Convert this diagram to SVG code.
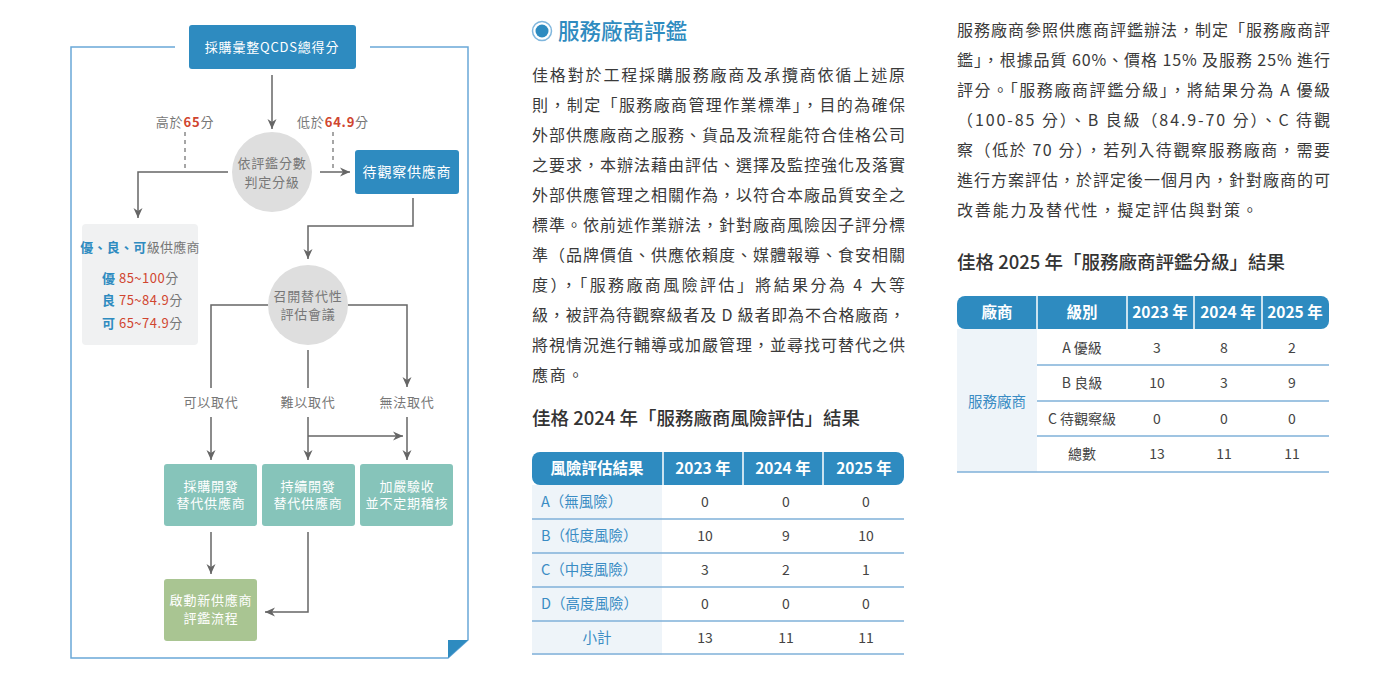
<svg xmlns="http://www.w3.org/2000/svg" width="1400" height="690" viewBox="0 0 1400 690">
<defs>
<marker id="ah" markerWidth="10" markerHeight="10" refX="10" refY="5" orient="auto" markerUnits="userSpaceOnUse">
<path d="M0,0.5 L10,5 L0,9.5 L3,5 z" fill="#666"/>
</marker>
<style>
text{font-family:"Noto Sans CJK TC","Noto Sans CJK SC",sans-serif}
.ln{fill:none;stroke:#666;stroke-width:1.5}
.dash{fill:none;stroke:#777;stroke-width:1.3;stroke-dasharray:4 4}
.fl{font-size:13px;fill:#777;text-anchor:middle;letter-spacing:0.8px}
.wt{font-size:13px;fill:#fff;text-anchor:middle;letter-spacing:0.8px}
.red{fill:#d0452f;font-weight:700}
.blu{fill:#2e8bc0;font-weight:700}
.body{font-size:16px;fill:#3a3a3a}
.hd{font-size:18.5px;fill:#333;font-weight:500}
.th{font-size:15.5px;fill:#fff;font-weight:700;text-anchor:middle}
.td{font-size:14px;fill:#444;text-anchor:middle}
.tl{font-size:14.5px;fill:#3a8cc4}
.rl{stroke:#7fb0d8;stroke-width:1.5}
</style>
</defs>
<rect width="1400" height="690" fill="#fff"/>

<!-- frame -->
<g id="frame" fill="none" stroke="#6aa8d8" stroke-width="1.5">
<path d="M175,47 H71 V658 H448 L468,640 V47 H370"/>
<path d="M448,640 H468 L448,658 Z" fill="#2e8bc0" stroke="none"/>
</g>

<!-- connectors -->
<g id="connectors">
<line class="ln" x1="272" y1="75" x2="272" y2="129" marker-end="url(#ah)"/>
<line class="dash" x1="185" y1="132" x2="185" y2="168"/>
<line class="dash" x1="333" y1="132" x2="333" y2="168"/>
<path class="ln" d="M228,172 H138 V218" marker-end="url(#ah)"/>
<line class="ln" x1="320" y1="172" x2="350" y2="172" marker-end="url(#ah)"/>
<path class="ln" d="M413,198 V226 H308 V259" marker-end="url(#ah)"/>
<path class="ln" d="M268,305 H211 V388"/>
<line class="ln" x1="308" y1="350" x2="308" y2="388"/>
<path class="ln" d="M348,305 H407 V387" marker-end="url(#ah)"/>
<line class="ln" x1="211" y1="417" x2="211" y2="460" marker-end="url(#ah)"/>
<line class="ln" x1="308" y1="417" x2="308" y2="460" marker-end="url(#ah)"/>
<line class="ln" x1="407" y1="417" x2="407" y2="460" marker-end="url(#ah)"/>
<line class="ln" x1="308" y1="436" x2="403" y2="436" marker-end="url(#ah)"/>
<line class="ln" x1="211" y1="532" x2="211" y2="574" marker-end="url(#ah)"/>
<path class="ln" d="M308,532 V612 H265" marker-end="url(#ah)"/>
<text class="fl" x="185" y="127">高於<tspan class="red">65</tspan>分</text>
<text class="fl" x="333" y="127">低於<tspan class="red">64.9</tspan>分</text>
<text class="fl" x="211" y="407">可以取代</text>
<text class="fl" x="308" y="407">難以取代</text>
<text class="fl" x="407" y="407">無法取代</text>
</g>

<g id="n-total">
<rect x="189" y="25" width="167" height="44" rx="3" fill="#2e8bc0"/>
<text class="wt" x="272" y="52">採購彙整QCDS總得分</text>
</g>
<g id="n-judge">
<circle cx="272" cy="172" r="40" fill="#dedede"/>
<text class="fl" x="272" y="168">依評鑑分數</text>
<text class="fl" x="272" y="187">判定分級</text>
</g>
<g id="n-watch">
<rect x="355" y="150" width="104" height="44" rx="3" fill="#2e8bc0"/>
<text class="wt" x="407" y="177" style="font-size:14px">待觀察供應商</text>
</g>
<g id="n-grades">
<rect x="82" y="224" width="116" height="121" rx="4" fill="#f0f1f2"/>
<text class="fl" x="140" y="252" style="letter-spacing:0.3px"><tspan class="blu">優、良、可</tspan>級供應商</text>
<text class="fl" x="102" y="283" style="text-anchor:start;letter-spacing:0.5px"><tspan class="blu">優</tspan><tspan fill="#d0452f"> 85~100</tspan>分</text>
<text class="fl" x="102" y="305" style="text-anchor:start;letter-spacing:0.5px"><tspan class="blu">良</tspan><tspan fill="#d0452f"> 75~84.9</tspan>分</text>
<text class="fl" x="102" y="328" style="text-anchor:start;letter-spacing:0.5px"><tspan class="blu">可</tspan><tspan fill="#d0452f"> 65~74.9</tspan>分</text>
</g>
<g id="n-meeting">
<circle cx="308" cy="305" r="40" fill="#dedede"/>
<text class="fl" x="308" y="301">召開替代性</text>
<text class="fl" x="308" y="319">評估會議</text>
</g>
<g id="n-develop">
<rect x="164" y="464" width="93" height="62" rx="3" fill="#86c4ba"/>
<text class="wt" x="211" y="491">採購開發</text>
<text class="wt" x="211" y="508">替代供應商</text>
</g>
<g id="n-continue">
<rect x="262" y="464" width="93" height="62" rx="3" fill="#86c4ba"/>
<text class="wt" x="308" y="491">持續開發</text>
<text class="wt" x="308" y="508">替代供應商</text>
</g>
<g id="n-strict">
<rect x="360" y="464" width="93" height="62" rx="3" fill="#86c4ba"/>
<text class="wt" x="407" y="491">加嚴驗收</text>
<text class="wt" x="407" y="508">並不定期稽核</text>
</g>
<g id="n-new">
<rect x="164" y="579" width="93" height="62" rx="3" fill="#a9c592"/>
<text class="wt" x="211" y="605">啟動新供應商</text>
<text class="wt" x="211" y="623">評鑑流程</text>
</g>

<!-- middle column -->
<g id="title">
<circle cx="542" cy="31" r="9.5" fill="none" stroke="#7fb6dd" stroke-width="1.5"/>
<circle cx="542" cy="31" r="6.5" fill="#2e8bc0"/>
<text x="558" y="39" font-size="21.5" fill="#2e8bc0" font-weight="500">服務廠商評鑑</text>
</g>
<g id="para1">
<text class="body" x="532" y="81" textLength="373" lengthAdjust="spacing">佳格對於工程採購服務廠商及承攬商依循上述原</text>
<text class="body" x="532" y="111" textLength="373" lengthAdjust="spacing">則，制定「服務廠商管理作業標準」，目的為確保</text>
<text class="body" x="532" y="141" textLength="373" lengthAdjust="spacing">外部供應廠商之服務、貨品及流程能符合佳格公司</text>
<text class="body" x="532" y="171" textLength="373" lengthAdjust="spacing">之要求，本辦法藉由評估、選擇及監控強化及落實</text>
<text class="body" x="532" y="201" textLength="373" lengthAdjust="spacing">外部供應管理之相關作為，以符合本廠品質安全之</text>
<text class="body" x="532" y="231" textLength="373" lengthAdjust="spacing">標準。依前述作業辦法，針對廠商風險因子評分標</text>
<text class="body" x="532" y="261" textLength="373" lengthAdjust="spacing">準（品牌價值、供應依賴度、媒體報導、食安相關</text>
<text class="body" x="532" y="291" textLength="373" lengthAdjust="spacing">度），「服務廠商風險評估」將結果分為 4 大等</text>
<text class="body" x="532" y="321" textLength="373" lengthAdjust="spacing">級，被評為待觀察級者及 D 級者即為不合格廠商，</text>
<text class="body" x="532" y="351" textLength="373" lengthAdjust="spacing">將視情況進行輔導或加嚴管理，並尋找可替代之供</text>
<text class="body" x="532" y="381" style="letter-spacing:1.8px">應商。</text>
</g>
<text class="hd" x="532" y="425">佳格 2024 年「服務廠商風險評估」結果</text>

<g id="table1">
<rect x="532" y="485" width="130" height="170" fill="#eef4f9"/>
<rect x="532" y="452" width="372" height="33" rx="8" fill="#2e8bc0"/>
<g stroke="#fff" stroke-width="1.5">
<line x1="663" y1="452" x2="663" y2="485"/>
<line x1="743" y1="452" x2="743" y2="485"/>
<line x1="823" y1="452" x2="823" y2="485"/>
</g>
<text class="th" x="597" y="474">風險評估結果</text>
<text class="th" x="703" y="474">2023 年</text>
<text class="th" x="783" y="474">2024 年</text>
<text class="th" x="864" y="474">2025 年</text>
<g>
<line class="rl" x1="532" y1="519" x2="904" y2="519"/>
<line class="rl" x1="532" y1="553" x2="904" y2="553"/>
<line class="rl" x1="532" y1="587" x2="904" y2="587"/>
<line class="rl" x1="532" y1="621" x2="904" y2="621"/>
<line class="rl" x1="532" y1="654" x2="904" y2="654"/>
</g>
<text class="tl" x="541" y="507">A（無風險）</text>
<text class="tl" x="541" y="541">B（低度風險）</text>
<text class="tl" x="541" y="575">C（中度風險）</text>
<text class="tl" x="541" y="609">D（高度風險）</text>
<text class="tl" x="597" y="643" text-anchor="middle">小計</text>
<text class="td" x="705" y="507">0</text><text class="td" x="786" y="507">0</text><text class="td" x="866" y="507">0</text>
<text class="td" x="705" y="541">10</text><text class="td" x="786" y="541">9</text><text class="td" x="866" y="541">10</text>
<text class="td" x="705" y="575">3</text><text class="td" x="786" y="575">2</text><text class="td" x="866" y="575">1</text>
<text class="td" x="705" y="609">0</text><text class="td" x="786" y="609">0</text><text class="td" x="866" y="609">0</text>
<text class="td" x="705" y="643">13</text><text class="td" x="786" y="643">11</text><text class="td" x="866" y="643">11</text>
</g>

<!-- right column -->
<g id="para2">
<text class="body" x="957" y="36" textLength="373" lengthAdjust="spacing">服務廠商參照供應商評鑑辦法，制定「服務廠商評</text>
<text class="body" x="957" y="66" textLength="373" lengthAdjust="spacing">鑑」，根據品質 60%、價格 15% 及服務 25% 進行</text>
<text class="body" x="957" y="96" textLength="373" lengthAdjust="spacing">評分。「服務廠商評鑑分級」，將結果分為 A 優級</text>
<text class="body" x="957" y="126" textLength="373" lengthAdjust="spacing">（100-85 分）、B 良級（84.9-70 分）、C 待觀</text>
<text class="body" x="957" y="156" textLength="373" lengthAdjust="spacing">察（低於 70 分），若列入待觀察服務廠商，需要</text>
<text class="body" x="957" y="186" textLength="373" lengthAdjust="spacing">進行方案評估，於評定後一個月內，針對廠商的可</text>
<text class="body" x="957" y="216" style="letter-spacing:1.8px">改善能力及替代性，擬定評估與對策。</text>
</g>
<text class="hd" x="957" y="269">佳格 2025 年「服務廠商評鑑分級」結果</text>

<g id="table2">
<rect x="957" y="329" width="80" height="143" fill="#eef4f9"/>
<rect x="957" y="296" width="372" height="33" rx="8" fill="#2e8bc0"/>
<g stroke="#fff" stroke-width="1.5">
<line x1="1037" y1="296" x2="1037" y2="329"/>
<line x1="1127" y1="296" x2="1127" y2="329"/>
<line x1="1194" y1="296" x2="1194" y2="329"/>
<line x1="1262" y1="296" x2="1262" y2="329"/>
</g>
<text class="th" x="997" y="318">廠商</text>
<text class="th" x="1082" y="318">級別</text>
<text class="th" x="1160" y="318">2023 年</text>
<text class="th" x="1228" y="318">2024 年</text>
<text class="th" x="1295" y="318">2025 年</text>
<line class="rl" x1="1037" y1="365" x2="1329" y2="365"/>
<line class="rl" x1="1037" y1="401" x2="1329" y2="401"/>
<line class="rl" x1="1037" y1="436" x2="1329" y2="436"/>
<line class="rl" x1="957" y1="472" x2="1329" y2="472"/>
<text class="tl" x="997" y="407" text-anchor="middle" font-size="15">服務廠商</text>
<text class="td" x="1082" y="353" fill="#666">A 優級</text>
<text class="td" x="1082" y="388" fill="#666">B 良級</text>
<text class="td" x="1082" y="424" fill="#666">C 待觀察級</text>
<text class="td" x="1082" y="459" fill="#666">總數</text>
<text class="td" x="1157" y="353">3</text><text class="td" x="1224" y="353">8</text><text class="td" x="1292" y="353">2</text>
<text class="td" x="1157" y="388">10</text><text class="td" x="1224" y="388">3</text><text class="td" x="1292" y="388">9</text>
<text class="td" x="1157" y="424">0</text><text class="td" x="1224" y="424">0</text><text class="td" x="1292" y="424">0</text>
<text class="td" x="1157" y="459">13</text><text class="td" x="1224" y="459">11</text><text class="td" x="1292" y="459">11</text>
</g>
</svg>
